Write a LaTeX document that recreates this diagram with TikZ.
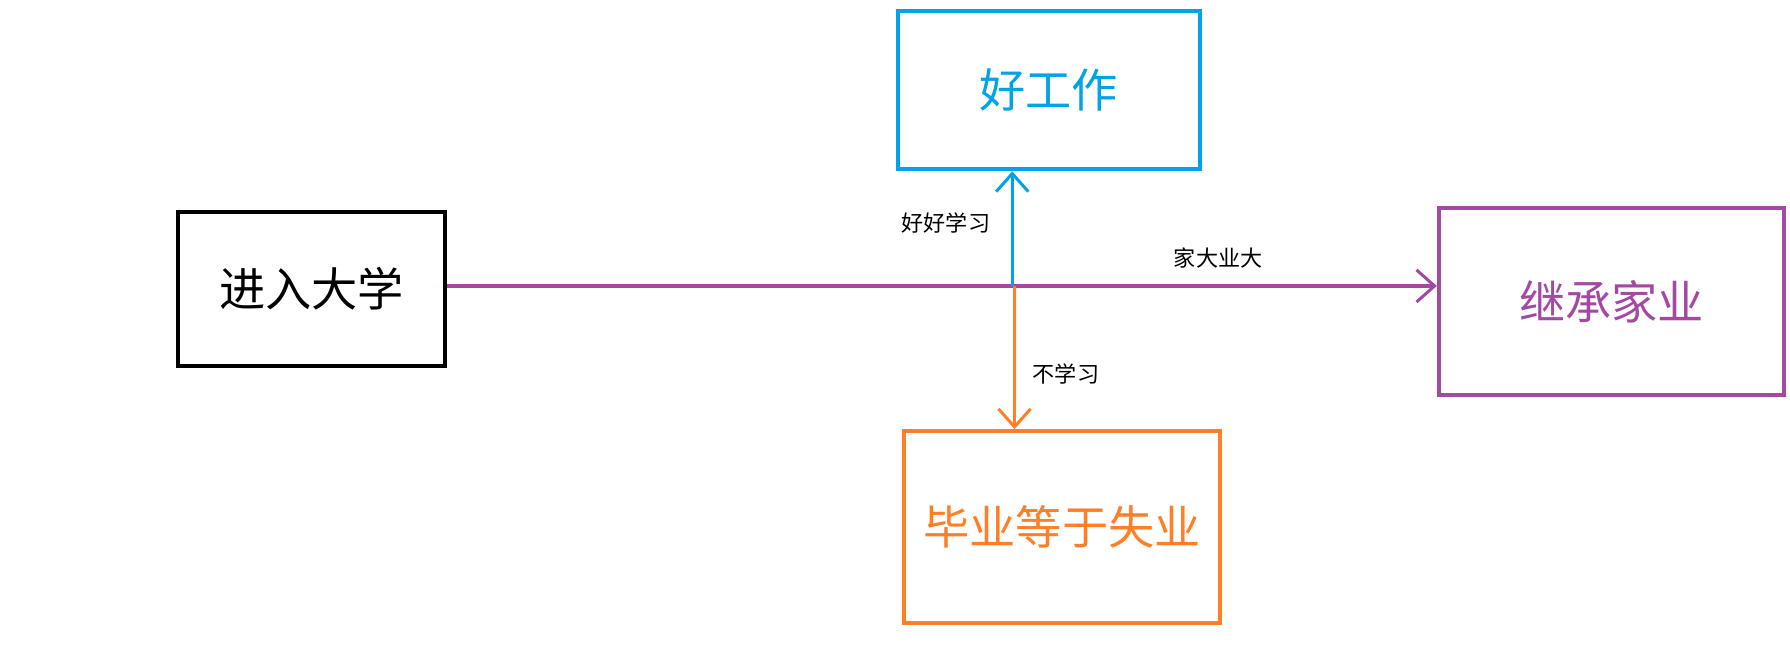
\documentclass[tikz,border=0pt]{standalone}
\usepackage{fontspec}
\setmainfont{Noto Sans CJK SC}
\usetikzlibrary{arrows.meta}
\definecolor{cblue}{HTML}{00A2E8}
\definecolor{cpurp}{HTML}{A349A4}
\definecolor{corg}{HTML}{FF7F27}
\begin{document}
\begin{tikzpicture}[x=0.02cm,y=-0.02cm,
  box/.style={draw,line width=2pt,inner sep=0pt,font=\fontsize{23}{23}\selectfont},
  lab/.style={font=\fontsize{11}{11}\selectfont},
  tip/.style={-{Straight Barb[length=9pt,width=16pt,line width=1.5pt]}}]
\useasboundingbox (0,0) rectangle (1565,571);
\node[box,minimum width=233*0.02cm,minimum height=135*0.02cm] (uni) at (272.5,252.5) {进入大学};
\node[box,draw=cblue,text=cblue,minimum width=264*0.02cm,minimum height=138*0.02cm] (job) at (917,79) {好工作};
\node[box,draw=cpurp,text=cpurp,minimum width=302*0.02cm,minimum height=163*0.02cm] (fam) at (1409,263.5) {继承家业};
\node[box,draw=corg,text=corg,minimum width=277*0.02cm,minimum height=168*0.02cm] (fail) at (928.5,461) {毕业等于失业};
\coordinate (c1) at (885,250);
\coordinate (c2) at (887,250);
\draw[tip,cpurp,line width=2pt] (uni.east |- 0,250) -- (fam.west |- 0,250);
\draw[tip,cblue,line width=1.5pt] (c1) -- (c1 |- job.south);
\draw[tip,corg,line width=1.5pt] (c2) -- (c2 |- fail.north);
\node[lab] (l1) at (827,195) {好好学习};
\node[lab] (l2) at (1065,226) {家大业大};
\node[lab] (l3) at (932,327) {不学习};
\end{tikzpicture}
\end{document}
